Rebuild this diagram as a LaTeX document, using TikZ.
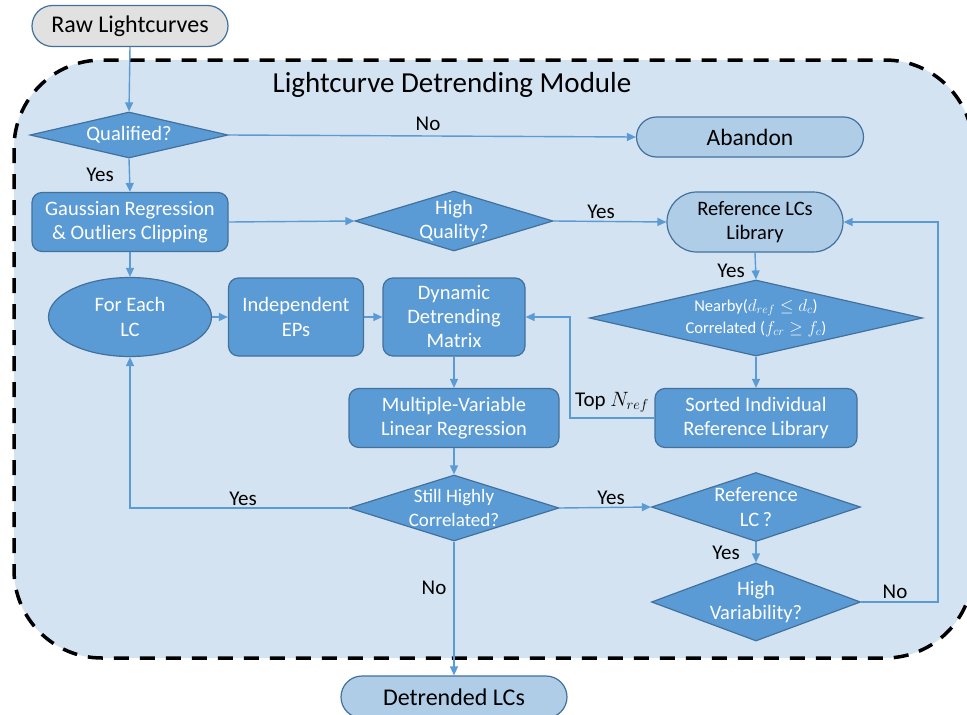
\documentclass[tikz,border=0pt]{standalone}
\usepackage{fontspec}
\setmainfont{Carlito}
\usetikzlibrary{shapes.geometric,shapes.misc,arrows.meta}
\definecolor{bgblue}{HTML}{D4E3F2}
\definecolor{dkblue}{HTML}{5B9BD5}
\definecolor{edgeblue}{HTML}{41719C}
\definecolor{ltblue}{HTML}{AFCDE7}
\definecolor{rawgray}{HTML}{E1E1E1}
\begin{document}
\begin{tikzpicture}[x=1pt,y=-1pt,
  base/.style={draw=edgeblue, line width=1.2pt, inner sep=0pt, align=center, font=\fontsize{20.5}{24.5}\selectfont},
  dkbox/.style={base, rectangle, rounded corners=10pt, fill=dkblue, text=white},
  pill/.style={base, rounded rectangle, fill=ltblue, text=black},
  dmd/.style={base, diamond, fill=dkblue},
  ell/.style={base, ellipse, fill=dkblue, text=white},
  dtext/.style={text=white, align=center, font=\fontsize{20.5}{24.5}\selectfont},
  lbl/.style={font=\fontsize{21}{25}\selectfont, text=black, inner sep=0pt},
  arr/.style={draw=dkblue, line width=1.4pt, -{Triangle[length=9pt,width=8pt]}},
]
\useasboundingbox (0,0) rectangle (967,715);
\fill[white] (0,0) rectangle (967,715);
% module frame
\draw[fill=bgblue, line width=3.5pt, dash pattern=on 15pt off 11pt, rounded corners=88pt] (14,60) rectangle (973,658);
\node[font=\fontsize{29}{34}\selectfont, inner sep=0pt] (title) at (452,85) {Lightcurve Detrending Module};

% nodes
\node[pill, fill=rawgray, minimum width=196pt, minimum height=41pt, font=\fontsize{24}{28}\selectfont] (raw) at (130,26) {Raw Lightcurves};
\node[dmd, minimum width=198pt, minimum height=46pt, label={[dtext]center:Qualified?}] (qual) at (129,135) {};
\node[pill, minimum width=227pt, minimum height=40pt, font=\fontsize{23.5}{28}\selectfont] (aband) at (750,137) {Abandon};
\node[dkbox, minimum width=196pt, minimum height=59pt] (gauss) at (130,222) {Gaussian Regression\\\& Outliers Clipping};
\node[dmd, minimum width=198pt, minimum height=60pt, label={[dtext]center:High\\Quality?}] (hq) at (454,221) {};
\node[pill, minimum width=176pt, minimum height=60pt] (refl) at (755,222) {Reference LCs\\Library};
\node[dmd, minimum width=333pt, minimum height=76pt, label={[dtext, font=\fontsize{16.5}{22}\selectfont]center:Nearby($d_{ref}\leq d_c$)\\Correlated ($f_{cr}\geq f_c$)}] (near) at (756,318) {};
\node[dkbox, minimum width=202pt, minimum height=59pt] (sorted) at (756,418) {Sorted Individual\\Reference Library};
\node[ell, minimum width=163pt, minimum height=79pt] (each) at (130,317) {For Each\\LC};
\node[dkbox, minimum width=135pt, minimum height=78pt] (indep) at (296,317) {Independent\\EPs};
\node[dkbox, minimum width=142pt, minimum height=78pt, font=\fontsize{20.5}{24}\selectfont] (dyn) at (454,317) {Dynamic\\Detrending\\Matrix};
\node[dkbox, minimum width=210pt, minimum height=59pt] (multi) at (454,418) {Multiple-Variable\\Linear Regression};
\node[dmd, minimum width=210pt, minimum height=66pt, label={[dtext, font=\fontsize{19}{24}\selectfont]center:Still Highly\\Correlated?}] (still) at (454,508) {};
\node[dmd, minimum width=209pt, minimum height=69pt, label={[dtext]center:Reference\\LC\,?}] (reflc) at (756,507) {};
\node[dmd, minimum width=209pt, minimum height=78pt, label={[dtext]center:High\\Variability?}] (hvar) at (756,602) {};
\node[pill, minimum width=226pt, minimum height=42pt, font=\fontsize{24}{28}\selectfont] (detr) at (454,697) {Detrended LCs};

% helper coordinates
\coordinate (topn) at (570,418);
\coordinate (novar) at (938,602);

% connectors
\draw[arr] (raw.south) -- (qual.north);
\draw[arr] (qual.east) -- (aband.west);
\draw[arr] (qual.south) -- (gauss.north);
\draw[arr] (gauss.east) -- (hq.west);
\draw[arr] (hq.east) -- (refl.west);
\draw[arr] (gauss.south) -- (each.north);
\draw[arr] (refl.south) -- (near.north);
\draw[arr] (near.south) -- (sorted.north);
\draw[arr] (each.east) -- (indep.west);
\draw[arr] (indep.east) -- (dyn.west);
\draw[arr] (sorted.west) -- (topn) |- (dyn.east);
\draw[arr] (dyn.south) -- (multi.north);
\draw[arr] (multi.south) -- (still.north);
\draw[arr] (still.west) -| (each.south);
\draw[arr] (still.east) -- (reflc.west);
\draw[arr] (still.south) -- (detr.north);
\draw[arr] (reflc.south) -- (hvar.north);
\draw[arr] (hvar.east) -- (novar) |- (refl.east);

% labels
\node[lbl] (lno1) at (428,124) {No};
\node[lbl] (lyes1) at (100,175) {Yes};
\node[lbl] (lyes2) at (601,212) {Yes};
\node[lbl] (lyes3) at (731,271) {Yes};
\node[lbl] (ltop) at (612,402) {Top $N_{ref}$};
\node[lbl] (lyes4) at (243,499) {Yes};
\node[lbl] (lyes5) at (611,498) {Yes};
\node[lbl] (lyes6) at (726,553) {Yes};
\node[lbl] (lno2) at (895,592) {No};
\node[lbl] (lno3) at (434,588) {No};
\end{tikzpicture}
\end{document}
